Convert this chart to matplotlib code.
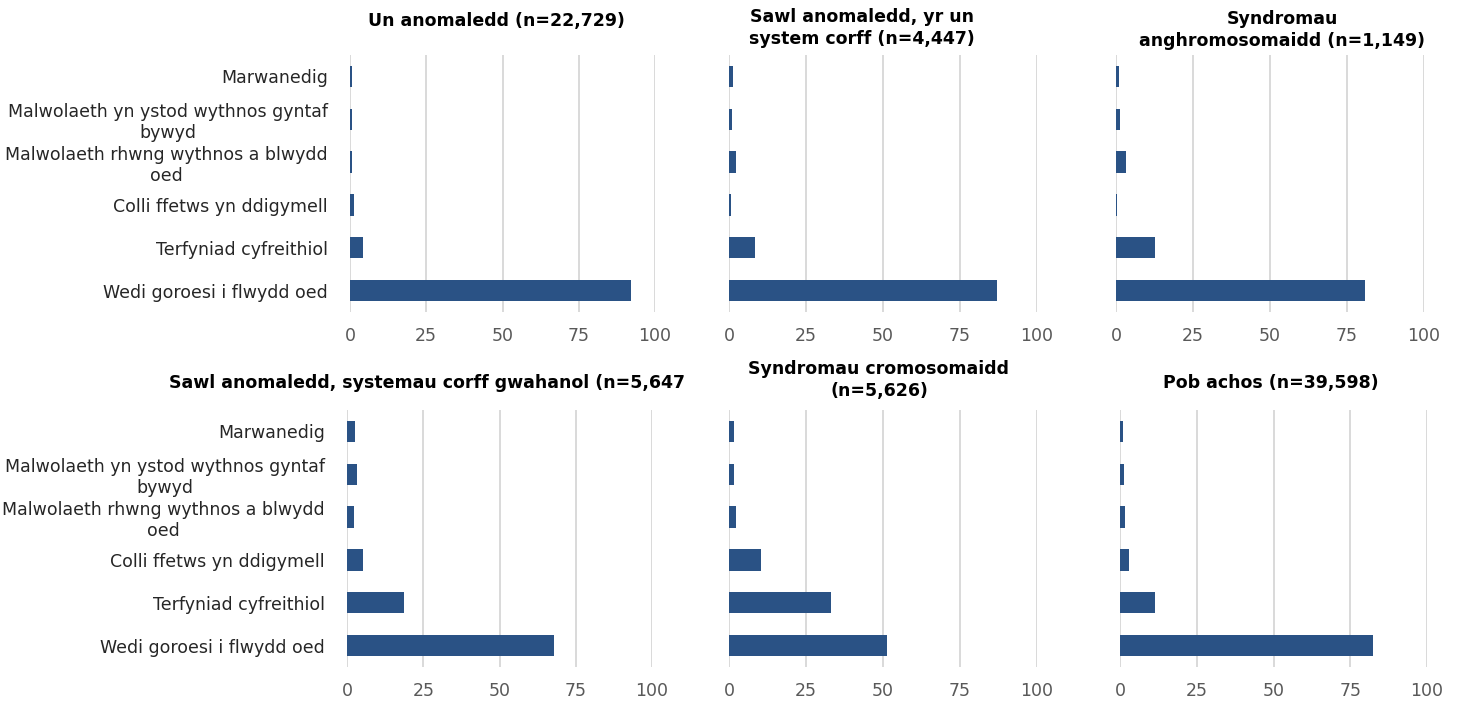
import matplotlib.pyplot as plt

categories = [
    "Marwanedig",
    "Malwolaeth yn ystod wythnos gyntaf\nbywyd",
    "Malwolaeth rhwng wythnos a blwydd\noed",
    "Colli ffetws yn ddigymell",
    "Terfyniad cyfreithiol",
    "Wedi goroesi i flwydd oed",
]

titles = [
    "Un anomaledd (n=22,729)",
    "Sawl anomaledd, yr un\nsystem corff (n=4,447)",
    "Syndromau\nanghromosomaidd (n=1,149)",
    "Sawl anomaledd, systemau corff gwahanol (n=5,647",
    "Syndromau cromosomaidd\n(n=5,626)",
    "Pob achos (n=39,598)",
]

un_anomaledd = [0.5, 0.5, 0.6, 1.2, 4.3, 92.2]
yr_un_system = [1.2, 1.1, 2.3, 0.7, 8.5, 87.0]
anghromosomaidd = [1.0, 1.4, 3.2, 0.3, 12.7, 80.8]
systemau_gwahanol = [2.5, 3.3, 2.4, 5.1, 18.7, 67.9]
cromosomaidd = [1.6, 1.5, 2.4, 10.3, 33.1, 51.3]
pob_achos = [1.1, 1.3, 1.5, 3.0, 11.3, 82.4]

series = [un_anomaledd, yr_un_system, anghromosomaidd,
          systemau_gwahanol, cromosomaidd, pob_achos]
xticks = [0, 25, 50, 75, 100]

plt.rcParams['font.family'] = ['DejaVu Sans']
plt.rcParams['font.sans-serif'] = ['DejaVu Sans']

W, H = 1459, 704
fig = plt.figure(figsize=(W / 100, H / 100), dpi=100)

# axes boxes in pixels: left, right, top, bottom
boxes = [(350, 655, 55, 312), (729, 1037, 55, 312), (1116, 1424, 55, 312),
         (347, 652, 410, 667), (729, 1037, 410, 667), (1120, 1427, 410, 667)]
# title centre positions (x, y) in pixels
title_pos = [(496, 21), (862, 28), (1282, 30), (427, 383), (879, 380), (1271, 383)]

bar_color = '#2a5285'
for i, (vals, box) in enumerate(zip(series, boxes)):
    l, r, t, b = box
    ax = fig.add_axes([l / W, (H - b) / H, (r - l) / W, (b - t) / H])
    ypos = list(range(len(categories)))
    ax.barh(ypos, vals, height=0.5, color=bar_color, zorder=3)
    ax.set_xlim(0, 100)
    ax.set_ylim(len(categories) - 0.5, -0.5)
    ax.set_xticks(xticks)
    ax.set_xticklabels([str(v) for v in xticks], color='#595959', fontsize=12.5,
                       family=['DejaVu Sans'])
    ax.grid(axis='x', color='#d9d9d9', linewidth=1.4, zorder=0)
    ax.set_axisbelow(True)
    for s in ax.spines.values():
        s.set_visible(False)
    ax.tick_params(axis='x', length=0, pad=11)
    ax.tick_params(axis='y', length=0, pad=16)
    if i % 3 == 0:
        ax.set_yticks(ypos)
        ax.set_yticklabels(categories, fontsize=12.5, color='#262626',
                           multialignment='center', family=['DejaVu Sans'])
    else:
        ax.set_yticks([])
    tx, ty = title_pos[i]
    fig.text(tx / W, 1 - ty / H, titles[i], ha='center', va='center',
             fontsize=12.5, fontweight='bold', color='#000000', linespacing=1.3,
             family=['DejaVu Sans'])

fig.savefig('out.png', dpi=100)
